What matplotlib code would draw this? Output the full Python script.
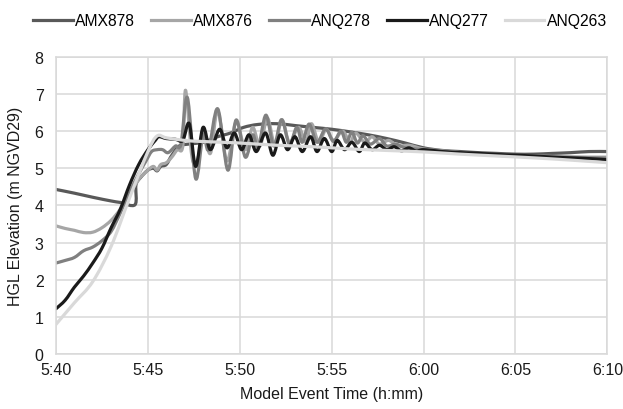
import matplotlib
matplotlib.use('Agg')
import matplotlib.pyplot as plt
import numpy as np
from matplotlib.path import Path
from matplotlib.patches import PathPatch
from matplotlib.lines import Line2D

plt.rcParams['font.family'] = ['Liberation Sans', 'DejaVu Sans']

# minutes after 5:40
tick_pos = [0, 5, 10, 15, 20, 25, 30]
tick_labels = ['5:40', '5:45', '5:50', '5:55', '6:00', '6:05', '6:10']

names = ['AMX878', 'AMX876', 'ANQ278', 'ANQ277', 'ANQ263']
colors = ['#595959', '#a6a6a6', '#808080', '#1a1a1a', '#d9d9d9']

t_amx878 = [0, 1, 2, 3, 3.5, 4.3, 4.35, 4.6, 5.0, 5.3, 5.5, 5.7, 6.0, 6.3, 6.7, 7.2, 8, 8.8,
            9.5, 10.2, 11, 12, 13, 14, 15, 16, 17, 18, 19, 20, 21, 22, 23, 24, 25, 26, 27,
            28, 29, 30]
amx878 = [4.43, 4.33, 4.22, 4.12, 4.08, 4.02, 4.55, 4.75, 4.95, 5.0, 4.93, 5.05, 5.1, 5.35,
          5.6, 5.65, 5.7, 5.85, 5.95, 6.1, 6.18, 6.2, 6.15, 6.1, 6.05, 5.98, 5.9, 5.8, 5.68,
          5.55, 5.48, 5.45, 5.42, 5.4, 5.38, 5.38, 5.4, 5.42, 5.45, 5.45]

t_amx876 = [0, 0.5, 1, 1.5, 2, 2.5, 3, 3.5, 4, 4.5, 5, 5.3, 5.5, 5.7, 6, 6.3, 6.6, 6.9,
            7.05, 7.4, 7.7, 8.0, 8.4, 8.8, 9.3, 9.8, 10.3, 10.7, 11.1, 11.5, 11.9, 12.3,
            12.7, 13.2, 13.6, 13.9, 14.3, 14.7, 15.1, 15.6, 16.0, 16.3, 16.8, 17.2, 17.6,
            18.1, 18.6, 19.2, 20, 21, 22, 23, 24, 25, 26, 27, 28, 29, 30]
amx876 = [3.45, 3.38, 3.33, 3.27, 3.28, 3.4, 3.6, 3.9, 4.3, 4.7, 4.95, 5.05, 4.95, 5.1,
          5.15, 5.3, 5.5, 5.6, 7.1, 5.3, 5.2, 6.0, 5.4, 6.55, 5.2, 6.25, 5.5, 6.1, 5.6,
          6.35, 5.65, 6.3, 5.7, 6.1, 5.7, 6.2, 5.7, 6.05, 5.75, 6.0, 5.7, 5.95, 5.7, 5.85,
          5.65, 5.75, 5.6, 5.62, 5.52, 5.47, 5.42, 5.38, 5.36, 5.34, 5.33, 5.32, 5.31,
          5.3, 5.3]

t_anq278 = [0, 0.5, 1, 1.5, 2, 2.5, 3, 3.5, 4, 4.5, 4.9, 5.2, 5.5, 5.8, 6.1, 6.5, 6.8,
            7.15, 7.6, 8.0, 8.3, 8.8, 9.35, 9.8, 10.3, 10.7, 11.0, 11.42, 11.85, 12.27,
            12.7, 13.1, 13.4, 13.77, 14.2, 14.67, 15.1, 15.5, 15.8, 16.1, 16.4, 16.7, 17.1,
            17.6, 18, 18.5, 19, 20, 21, 22, 23, 24, 25, 26, 27, 28, 29, 30]
anq278 = [2.45, 2.52, 2.6, 2.78, 2.88, 3.05, 3.3, 3.8, 4.35, 4.85, 5.2, 5.45, 5.5, 5.5,
          5.42, 5.6, 5.65, 6.9, 4.72, 5.9, 5.5, 6.6, 4.95, 6.3, 5.3, 5.9, 5.55, 6.43, 5.6,
          6.31, 5.65, 6.1, 5.7, 6.19, 5.7, 6.06, 5.72, 6.0, 5.7, 5.97, 5.68, 5.88, 5.65,
          5.8, 5.6, 5.65, 5.55, 5.5, 5.46, 5.42, 5.38, 5.35, 5.33, 5.32, 5.3, 5.29, 5.28,
          5.27]

t_anq277 = [0, 0.5, 1, 1.5, 2, 2.5, 3, 3.5, 4, 4.5, 5, 5.4, 5.6, 6, 6.5, 6.9,
            7.25, 7.6, 8.0, 8.4, 8.9, 9.3, 9.7, 10.1, 10.5, 10.9, 11.4, 11.8, 12.2, 12.6,
            13.0, 13.4, 13.85, 14.2, 14.6, 15.0, 15.3, 15.7, 16.1, 16.5, 16.8, 17.2, 17.6,
            18, 18.4, 18.8, 19.2, 19.6, 20, 21, 22, 23, 24, 25, 26, 27, 28, 29, 30]
anq277 = [1.22, 1.45, 1.8, 2.1, 2.45, 2.85, 3.4, 3.9, 4.55, 5.1, 5.5, 5.75, 5.85, 5.8,
          5.78, 5.75, 6.2, 5.05, 6.1, 5.5, 6.05, 5.55, 5.95, 5.5, 5.9, 5.45, 5.95, 5.35,
          5.9, 5.5, 5.85, 5.45, 5.85, 5.45, 5.8, 5.45, 5.75, 5.5, 5.7, 5.45, 5.68, 5.5,
          5.62, 5.5, 5.58, 5.47, 5.55, 5.46, 5.5, 5.45, 5.42, 5.4, 5.37, 5.35, 5.33, 5.3,
          5.28, 5.26, 5.23]

t_anq263 = [0, 1, 2, 3, 4, 5, 5.5, 6, 7, 8, 10, 12, 14, 16, 18, 20, 22, 24, 26, 28, 30]
anq263 = [0.8, 1.38, 1.95, 2.9, 4.2, 5.45, 5.87, 5.82, 5.75, 5.72, 5.68, 5.62, 5.58, 5.52,
          5.48, 5.44, 5.38, 5.33, 5.28, 5.22, 5.15]

times = [t_amx878, t_amx876, t_anq278, t_anq277, t_anq263]
series = [amx878, amx876, anq278, anq277, anq263]


def smooth_path(t, v):
    # excel style smoothed line: cubic bezier through the points
    pts = np.column_stack([t, v])
    n = len(pts)
    verts = [pts[0]]
    codes = [Path.MOVETO]
    for i in range(n - 1):
        p0 = pts[i - 1] if i > 0 else pts[i]
        p1, p2 = pts[i], pts[i + 1]
        p3 = pts[i + 2] if i + 2 < n else pts[i + 1]
        verts += [p1 + (p2 - p0) / 6, p2 - (p3 - p1) / 6, p2]
        codes += [Path.CURVE4] * 3
    return Path(verts, codes)


fig = plt.figure(figsize=(6.23, 4.10), dpi=100)
ax = fig.add_axes([0.0899, 0.134, 0.885, 0.725])

handles = []
for t, v, name, c in zip(times, series, names, colors):
    ax.add_patch(PathPatch(smooth_path(t, v), fill=False, edgecolor=c, lw=2.3,
                           capstyle='round', joinstyle='round'))
    handles.append(Line2D([], [], color=c, lw=2.3, label=name))

ax.set_xlim(0, 30)
ax.set_ylim(0, 8)
ax.set_xticks(tick_pos)
ax.set_xticklabels(tick_labels)
ax.set_yticks(range(0, 9))
ax.grid(True, color='#d9d9d9', lw=1.1)
ax.set_axisbelow(True)
for s in ax.spines.values():
    s.set_color('#d9d9d9')
    s.set_linewidth(1.1)
ax.tick_params(length=0, labelsize=11.5, colors='#1a1a1a')
ax.tick_params(axis='y', pad=9)
ax.tick_params(axis='x', pad=6)
ax.set_xlabel('Model Event Time (h:mm)', fontsize=11.5, color='#1a1a1a', labelpad=6)
ax.set_ylabel('HGL Elevation (m NGVD29)', fontsize=11.5, color='#1a1a1a', labelpad=8)

fig.legend(handles=handles, loc='upper center', bbox_to_anchor=(0.514, 1.0), ncol=5,
           frameon=False, fontsize=11.3, handlelength=2.5, handletextpad=0.15,
           columnspacing=1.05)

fig.savefig('out.png', dpi=100)
